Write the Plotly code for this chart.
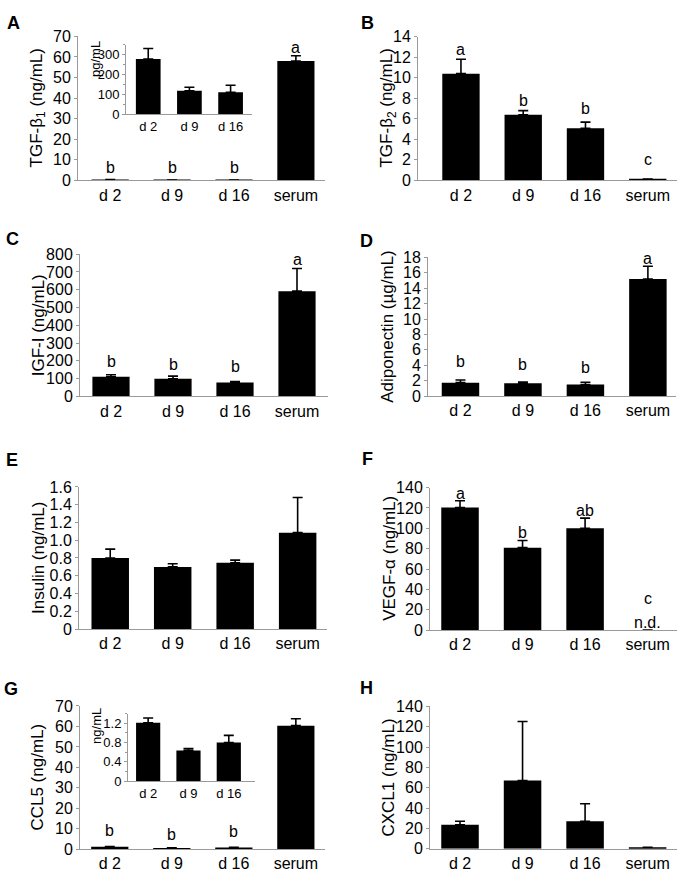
import plotly.graph_objects as go

W, H = 683, 883
FONT = "Liberation Sans, Arial, sans-serif"
AXIS_GRAY = "#9a9a9a"

CATS = ["d 2", "d 9", "d 16", "serum"]
INSET_CATS = ["d 2", "d 9", "d 16"]

# ---- data ----
A_VALUES = [0.28, 0.12, 0.11, 58.0]
A_ERRORS = [0.055, 0.018, 0.035, 2.6]
A_LETTERS = ["b", "b", "b", "a"]
A_LETTER_Y = [6.4, 6.4, 6.4, 64.4]
A_INSET_VALUES = [278, 118, 111]
A_INSET_ERRORS = [53, 18, 35]

B_VALUES = [10.4, 6.4, 5.07, 0.12]
B_ERRORS = [1.4, 0.4, 0.6, 0]
B_LETTERS = ["a", "b", "b", "c"]
B_LETTER_Y = [12.8, 7.8, 7.0, 2.05]

C_VALUES = [110, 99, 78, 592]
C_ERRORS = [12, 15, 6, 127]
C_LETTERS = ["b", "b", "b", "a"]
C_LETTER_Y = [196, 178, 166, 770]

D_VALUES = [1.74, 1.66, 1.49, 15.2]
D_ERRORS = [0.35, 0.17, 0.3, 1.65]
D_LETTERS = ["b", "b", "b", "a"]
D_LETTER_Y = [4.45, 4.1, 3.7, 17.8]

E_VALUES = [0.80, 0.70, 0.746, 1.085]
E_ERRORS = [0.10, 0.035, 0.03, 0.395]

F_VALUES = [120.4, 81, 100, 0]
F_ERRORS = [6.6, 7, 10, 0]
F_LETTERS = ["a", "b", "ab", "c"]
F_LETTER_Y = [134.5, 96, 117.6, 31]
F_ND_Y = 7

G_VALUES = [1.2, 0.634, 0.80, 60.4]
G_ERRORS = [0.11, 0.04, 0.15, 3.4]
G_LETTERS = ["b", "b", "b", "a"]
G_LETTER_Y = [9.3, 7.2, 8.5, 70.3]
G_INSET_VALUES = [1.21, 0.634, 0.80]
G_INSET_ERRORS = [0.10, 0.041, 0.15]

H_VALUES = [23.5, 67, 27, 1.5]
H_ERRORS = [3.5, 58, 17.3, 0]

A_TICKS = [0, 10, 20, 30, 40, 50, 60, 70]
B_TICKS = [0, 2, 4, 6, 8, 10, 12, 14]
C_TICKS = [0, 100, 200, 300, 400, 500, 600, 700, 800]
D_TICKS = [0, 2, 4, 6, 8, 10, 12, 14, 16, 18]
E_TICKS = [0, 0.2, 0.4, 0.6, 0.8, 1.0, 1.2, 1.4, 1.6]
E_TICK_TEXT = ["0", "0.2", "0.4", "0.6", "0.8", "1.0", "1.2", "1.4", "1.6"]
F_TICKS = [0, 20, 40, 60, 80, 100, 120, 140]
G_TICKS = [0, 10, 20, 30, 40, 50, 60, 70]
H_TICKS = [0, 20, 40, 60, 80, 100, 120, 140]
A_INSET_TICKS = [0, 100, 200, 300]
G_INSET_TICKS = [0, 0.4, 0.8, 1.2]

# ---- layout (pixel geometry) ----
panels = [
    dict(key="A", vals=A_VALUES, errs=A_ERRORS, cats=CATS, letters=A_LETTERS, ly=A_LETTER_Y,
         px=(78, 325), py=(29, 175.7), xr=(-0.52, 3.47), yr=(0, 70), ticks=A_TICKS, ttext=None,
         title="TGF-β<sub>1</sub> (ng/mL)", tx=38, lab=(13, 15), fs=16, tfs=17),
    dict(key="B", vals=B_VALUES, errs=B_ERRORS, cats=CATS, letters=B_LETTERS, ly=B_LETTER_Y,
         px=(418, 677), py=(29.3, 175.7), xr=(-0.69, 3.47), yr=(0, 14), ticks=B_TICKS, ttext=None,
         title="TGF-β<sub>2</sub> (ng/mL)", tx=388, lab=(367, 15), fs=16, tfs=17),
    dict(key="C", vals=C_VALUES, errs=C_ERRORS, cats=CATS, letters=C_LETTERS, ly=C_LETTER_Y,
         px=(80, 328), py=(251, 396), xr=(-0.5, 3.5), yr=(0, 800), ticks=C_TICKS, ttext=None,
         title="IGF-I (ng/mL)", tx=38, lab=(12.5, 236), fs=16, tfs=17),
    dict(key="D", vals=D_VALUES, errs=D_ERRORS, cats=CATS, letters=D_LETTERS, ly=D_LETTER_Y,
         px=(428, 676), py=(254.3, 395.7), xr=(-0.52, 3.45), yr=(0, 18), ticks=D_TICKS, ttext=None,
         title="Adiponectin (µg/mL)", tx=388, lab=(366, 237.5), fs=16, tfs=17),
    dict(key="E", vals=E_VALUES, errs=E_ERRORS, cats=CATS, letters=None, ly=None,
         px=(79, 327), py=(488.3, 633.3), xr=(-0.5, 3.47), yr=(0, 1.6), ticks=E_TICKS, ttext=E_TICK_TEXT,
         title="Insulin (ng/mL)", tx=38, lab=(12, 461), fs=16, tfs=17),
    dict(key="F", vals=F_VALUES, errs=F_ERRORS, cats=CATS, letters=F_LETTERS, ly=F_LETTER_Y,
         px=(430, 677), py=(489, 634.3), xr=(-0.48, 3.47), yr=(0, 140), ticks=F_TICKS, ttext=None,
         title="VEGF-α (ng/mL)", tx=390, lab=(367, 460), fs=16, tfs=17),
    dict(key="G", vals=G_VALUES, errs=G_ERRORS, cats=CATS, letters=G_LETTERS, ly=G_LETTER_Y,
         px=(80, 325), py=(711.7, 857.7), xr=(-0.48, 3.47), yr=(0, 70), ticks=G_TICKS, ttext=None,
         title="CCL5 (ng/mL)", tx=38, lab=(11, 694), fs=16, tfs=17),
    dict(key="H", vals=H_VALUES, errs=H_ERRORS, cats=CATS, letters=None, ly=None,
         px=(430, 677), py=(712, 857.3), xr=(-0.48, 3.47), yr=(0, 140), ticks=H_TICKS, ttext=None,
         title="CXCL1 (ng/mL)", tx=389, lab=(366, 693.5), fs=16, tfs=17),
    dict(key="Ai", vals=A_INSET_VALUES, errs=A_INSET_ERRORS, cats=INSET_CATS, letters=None, ly=None,
         px=(126, 252), py=(37.5, 108.3), xr=(-0.54, 2.52), yr=(0, 350), ticks=A_INSET_TICKS, ttext=None,
         title="pg/mL", tx=96, ty=52, lab=None, fs=13, tfs=13, minor=50),
    dict(key="Gi", vals=G_INSET_VALUES, errs=G_INSET_ERRORS, cats=INSET_CATS, letters=None, ly=None,
         px=(128, 255), py=(719.5, 788.3), xr=(-0.5, 2.65), yr=(0, 1.4), ticks=G_INSET_TICKS, ttext=None,
         title="ng/mL", tx=97, ty=732, lab=None, fs=13, tfs=13, minor=0.2),
]

fig = go.Figure()
layout = dict(width=W, height=H, margin=dict(l=0, r=0, t=0, b=0),
              paper_bgcolor="white", plot_bgcolor="rgba(0,0,0,0)", showlegend=False,
              font=dict(family=FONT, color="black", size=16))
annotations = []

for k, p in enumerate(panels, start=1):
    n = len(p["vals"])
    xs = list(range(n))
    fig.add_trace(go.Bar(
        x=xs, y=p["vals"], width=0.6,
        marker=dict(color="black", line=dict(width=0)),
        error_y=dict(type="data", symmetric=False, array=p["errs"], arrayminus=[0] * n,
                     color="black", thickness=1.6, width=5),
        xaxis=f"x{k}", yaxis=f"y{k}", hoverinfo="skip"))
    xd = [p["px"][0] / W, p["px"][1] / W]
    yd = [1 - p["py"][1] / H, 1 - p["py"][0] / H]
    fs = p["fs"]
    layout[f"xaxis{k}"] = dict(
        domain=xd, range=list(p["xr"]), anchor=f"y{k}", tickvals=xs, ticktext=p["cats"],
        showline=True, linecolor=AXIS_GRAY, linewidth=1, ticks="", showgrid=False,
        zeroline=False, tickfont=dict(size=fs, family=FONT, color="black"), fixedrange=True,
        ticklabeloverflow="allow")
    yax = dict(
        domain=yd, range=list(p["yr"]), anchor=f"x{k}", tickvals=p["ticks"],
        showline=True, linecolor=AXIS_GRAY, linewidth=1, ticks="outside", ticklen=3,
        tickcolor=AXIS_GRAY, tickwidth=1, showgrid=False, zeroline=False,
        tickfont=dict(size=fs, family=FONT, color="black"), fixedrange=True,
        ticklabeloverflow="allow")
    if p["ttext"] is not None:
        yax["ticktext"] = p["ttext"]
    if p.get("minor"):
        yax["minor"] = dict(dtick=p["minor"], tick0=0, ticks="outside", ticklen=2,
                            tickcolor=AXIS_GRAY, showgrid=False)
    layout[f"yaxis{k}"] = yax

    # y-axis title
    ty = p.get("ty", (p["py"][0] + p["py"][1]) / 2)
    annotations.append(dict(text=p["title"], xref="paper", yref="paper",
                            x=p["tx"] / W, y=1 - ty / H, textangle=-90, showarrow=False,
                            xanchor="center", yanchor="middle",
                            font=dict(size=p["tfs"], family=FONT, color="black")))
    # panel letter
    if p["lab"] is not None:
        annotations.append(dict(text=f"<b>{p['key']}</b>", xref="paper", yref="paper",
                                x=p["lab"][0] / W, y=1 - p["lab"][1] / H, showarrow=False,
                                xanchor="center", yanchor="middle",
                                font=dict(size=18, family=FONT, color="black")))
    # significance letters
    if p["letters"] is not None:
        for i, (t, yy) in enumerate(zip(p["letters"], p["ly"])):
            annotations.append(dict(text=t, xref=f"x{k}", yref=f"y{k}", x=i, y=yy,
                                    showarrow=False, xanchor="center", yanchor="middle",
                                    font=dict(size=16, family=FONT, color="black")))
    if p["key"] == "F":
        annotations.append(dict(text="n.d.", xref=f"x{k}", yref=f"y{k}", x=3, y=F_ND_Y,
                                showarrow=False, xanchor="center", yanchor="middle",
                                font=dict(size=16, family=FONT, color="black")))

layout["annotations"] = annotations
fig.update_layout(**layout)
fig.write_html(
    "out.html",
    config={"displayModeBar": False},
    post_script="document.body.style.margin='0';document.body.style.overflow='hidden';",
)
